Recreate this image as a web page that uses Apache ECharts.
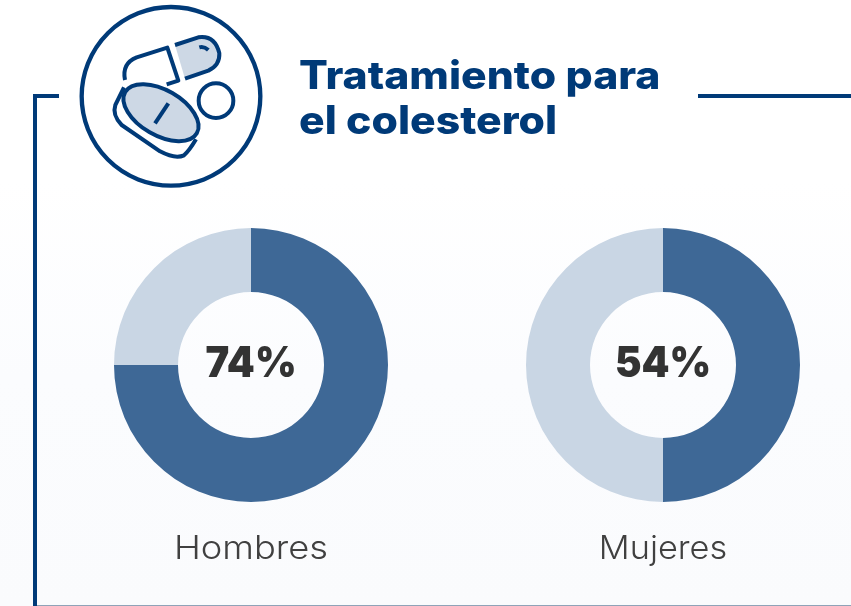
<!DOCTYPE html>
<html><head><meta charset="utf-8">
<style>html,body{margin:0;padding:0;background:#fff}#c{width:851px;height:606px}</style>
<script src="https://cdn.jsdelivr.net/npm/echarts@6/dist/echarts.min.js"></script>
</head><body><div id="c"></div>
<script>
const titleLines = ['Tratamiento para', 'el colesterol'];
const categories = ['Hombres', 'Mujeres'];
const printedPercent = ['74%', '54%'];
const treatedShare = [75, 50];
const untreatedShare = [25, 50];
const centers = [251, 663];
const labelStretch = [1.1, 1.04];

const NAVY = '#003a78', DARK = '#3e6896', LIGHT = '#c9d6e4';
const chart = echarts.init(document.getElementById('c'), null, {renderer: 'canvas'});
const FONT = 'Inter, "Open Sans", sans-serif';

const iconPaths = {
  capsuleFill: 'M345 135 L415 112 Q465 105 478 160 Q480 195 445 212 L375 236 Z',
  capsuleRight: 'M345 135 L415 112 Q465 105 478 160 Q480 195 445 212 L375 236',
  capsuleLeft: 'M195 240 Q185 190 230 172 L322 143 L355 242 L320 253',
  capsuleGlint: 'M418 142 Q432 138 445 150',
  tabletSide: 'M192 262 L166 315 Q156 345 185 375 L300 454 Q345 478 372 466 Q388 452 408 418'
};
Object.keys(iconPaths).forEach(k => echarts.graphic.registerShape(k, echarts.graphic.extendPath(iconPaths[k], {})));

const stroke = {stroke: NAVY, lineWidth: 12, fill: null, lineCap: 'butt', lineJoin: 'round'};
const icon = {
  type: 'group', x: 60, y: 0, scaleX: 1/3, scaleY: 1/3, silent: true,
  children: [
    {type: 'circle', shape: {cx: 333, cy: 289, r: 268}, style: {fill: '#fff', stroke: NAVY, lineWidth: 13}},
    {type: 'capsuleFill', style: {fill: '#cdd8e5', stroke: null}},
    {type: 'capsuleRight', style: stroke},
    {type: 'capsuleLeft', style: stroke},
    {type: 'capsuleGlint', style: stroke},
    {type: 'circle', shape: {cx: 468, cy: 302, r: 52}, style: {fill: '#fff', stroke: NAVY, lineWidth: 12}},
    {type: 'tabletSide', style: stroke},
    {type: 'ellipse', x: 303, y: 338, rotation: -Math.PI * 30 / 180, shape: {cx: 0, cy: 0, rx: 124, ry: 68}, style: {fill: '#cdd8e5', stroke: NAVY, lineWidth: 12}},
    {type: 'line', shape: {x1: 325, y1: 310, x2: 285, y2: 370}, style: {stroke: NAVY, lineWidth: 12}}
  ]
};

const graphic = [
  {type: 'rect', z: -10, silent: true, shape: {x: 0, y: 0, width: 851, height: 606},
   style: {fill: new echarts.graphic.LinearGradient(0, 0, 0, 1, [
     {offset: 0, color: '#ffffff'}, {offset: 0.3, color: '#ffffff'}, {offset: 0.62, color: '#fbfcfe'}, {offset: 1, color: '#fafbfd'}])}},
  {type: 'rect', silent: true, shape: {x: 33, y: 94, width: 4, height: 512}, style: {fill: NAVY}},
  {type: 'rect', silent: true, shape: {x: 33, y: 94, width: 26, height: 4}, style: {fill: NAVY}},
  {type: 'rect', silent: true, shape: {x: 698, y: 94, width: 153, height: 4}, style: {fill: NAVY}},
  {type: 'rect', silent: true, shape: {x: 37, y: 605, width: 814, height: 1}, style: {fill: '#8fa3b8'}},
  icon,
  ...titleLines.map((t, i) => ({type: 'text', silent: true, x: 299, y: 97 + i * 45, scaleX: 1.095,
    style: {text: t, font: '800 39px ' + FONT, fill: NAVY, textAlign: 'left', textVerticalAlign: 'bottom'}})),
  ...categories.map((t, i) => ({type: 'text', silent: true, x: centers[i], y: 549, scaleX: labelStretch[i],
    style: {text: t, font: '300 33px ' + FONT, fill: '#404040', textAlign: 'center', textVerticalAlign: 'middle'}})),
  ...printedPercent.map((t, i) => ({type: 'text', silent: true, z: 10, x: centers[i], y: 364, scaleX: 0.95,
    style: {text: t, font: '900 42px ' + FONT, fill: '#333', textAlign: 'center', textVerticalAlign: 'middle'}}))
];

chart.setOption({
  animation: false,
  graphic,
  series: categories.map((name, i) => ({
    type: 'pie', name, center: [centers[i], 365], radius: [73, 137], startAngle: 90, clockwise: true,
    silent: true, label: {show: false}, labelLine: {show: false},
    emphasis: {disabled: true},
    itemStyle: {borderWidth: 0},
    data: [
      {value: treatedShare[i], name: 'Con tratamiento', itemStyle: {color: DARK}},
      {value: untreatedShare[i], name: 'Sin tratamiento', itemStyle: {color: LIGHT}}
    ]
  }))
});
</script></body></html>
